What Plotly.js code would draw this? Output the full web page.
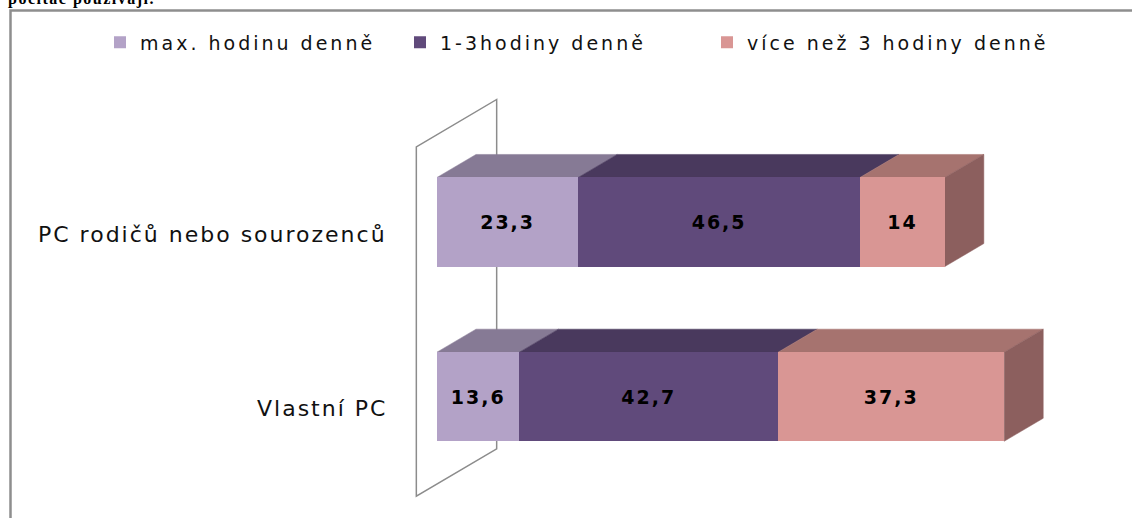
<!DOCTYPE html>
<html>
<head>
<meta charset="utf-8">
<script src="https://cdn.plot.ly/plotly-3.0.1.min.js"></script>
<style>
html, body { margin: 0; padding: 0; background: #fff; }
#chart { width: 1132px; height: 518px; }
.legendtext { letter-spacing: 3px; }
.annotation-text { letter-spacing: 2px; }
.bartext { letter-spacing: 2px; }
.gtitle { letter-spacing: 1.5px; }
</style>
</head>
<body>
<div id="chart"></div>
<script>
// ---- data ----
const categories = ['Vlastní PC', 'PC rodičů nebo sourozenců'];
const seriesNames = ['max. hodinu denně', '1-3hodiny denně', 'více než 3 hodiny denně'];
const maxHodinu = [13.6, 23.3];
const jednaAzTri = [42.7, 46.5];
const viceNezTri = [37.3, 14];
const titleText = 'počítač používají.';

// ---- styles ----
const frontColors = ['#b3a2c7', '#604a7b', '#d99694'];
const topColors = ['#867a95', '#49395d', '#a6736f'];
const sideColors = ['#6f6580', '#3b2e4c', '#8c5f5e'];
const legendWidths = [255, 262, 330];
const wallColor = '#8c8c8c';
const W = 1132, H = 518;
const PX_PER_VALUE = 6.06, ZERO_PX = 437;
const PX_PER_CAT = 174.7, CAT0_PX = 396.7;
const BAR_WIDTH = 0.51;
const DX = 39 / PX_PER_VALUE, DY = 23 / PX_PER_CAT;
const WALL_GAP = 0.53;

const series = [maxHodinu, jednaAzTri, viceNezTri];
const yIdx = categories.map((c, i) => i);
const fmt = v => String(v).replace('.', ',');

const traces = series.map((vals, s) => ({
  type: 'bar', orientation: 'h', name: seriesNames[s],
  x: vals, y: yIdx, width: BAR_WIDTH,
  legendwidth: legendWidths[s],
  marker: { color: frontColors[s], line: { width: 0 } },
  text: vals.map(fmt), textposition: 'inside', insidetextanchor: 'middle',
  textangle: 0, constraintext: 'none',
  textfont: { family: 'DejaVu Sans', size: 19, color: '#000', weight: 'bold' },
  hoverinfo: 'skip'
}));

const P = (x, y) => x + ',' + y;
const shapes = [];
// outer frame
shapes.push({ type: 'rect', xref: 'paper', yref: 'paper',
  x0: 10.5 / W, x1: (W + 20) / W, y0: 1 - 10.5 / H, y1: -0.1,
  line: { color: '#8e8e8e', width: 2.5 }, fillcolor: 'rgba(0,0,0,0)', layer: 'below' });

// wall at value 0
const wf = -WALL_GAP, wb = 1 + WALL_GAP;
const yLo = -0.5, yHi = categories.length - 0.5;
shapes.push({ type: 'path', xref: 'x', yref: 'y', layer: 'below',
  path: 'M' + P(wf * DX, yLo + wf * DY) + 'L' + P(wf * DX, yHi + wf * DY) +
        'L' + P(wb * DX, yHi + wb * DY) + 'L' + P(wb * DX, yLo + wb * DY) + 'Z',
  line: { color: wallColor, width: 1.5 }, fillcolor: 'rgba(0,0,0,0)' });

// 3D faces
categories.forEach((c, i) => {
  let start = 0;
  const yT = i + BAR_WIDTH / 2, yB = i - BAR_WIDTH / 2;
  series.forEach((vals, s) => {
    const end = start + vals[i];
    shapes.push({ type: 'path', xref: 'x', yref: 'y', layer: 'below',
      path: 'M' + P(start, yT) + 'L' + P(end, yT) + 'L' + P(end + DX, yT + DY) + 'L' + P(start + DX, yT + DY) + 'Z',
      fillcolor: topColors[s], line: { color: topColors[s], width: 0.5 } });
    if (s === series.length - 1) {
      shapes.push({ type: 'path', xref: 'x', yref: 'y', layer: 'below',
        path: 'M' + P(end, yB) + 'L' + P(end, yT) + 'L' + P(end + DX, yT + DY) + 'L' + P(end + DX, yB + DY) + 'Z',
        fillcolor: sideColors[s], line: { color: sideColors[s], width: 0.5 } });
    }
    start = end;
  });
});

const annotations = categories.map((c, i) => ({
  xref: 'x', yref: 'y', x: wf * DX, y: i + wf * DY, text: c,
  showarrow: false, xanchor: 'right', yanchor: 'middle', xshift: -27,
  font: { family: 'DejaVu Sans', size: 22, color: '#111' }
}));

const layout = {
  width: W, height: H, autosize: false,
  margin: { l: 0, r: 0, t: 0, b: 0, pad: 0 },
  paper_bgcolor: '#fff', plot_bgcolor: '#fff',
  barmode: 'stack', showlegend: true,
  title: { text: titleText, xref: 'container', yref: 'container',
    x: 8 / W, y: 1 - 4 / H, xanchor: 'left', yanchor: 'bottom',
    font: { family: 'Liberation Serif', size: 16, weight: 'bold', color: '#000' },
    pad: { t: 0, b: 0, l: 0, r: 0 } },
  xaxis: { visible: false, range: [-ZERO_PX / PX_PER_VALUE, (W - ZERO_PX) / PX_PER_VALUE], fixedrange: true },
  yaxis: { visible: false, range: [(CAT0_PX - H) / PX_PER_CAT, CAT0_PX / PX_PER_CAT], fixedrange: true },
  legend: { orientation: 'h', xref: 'paper', yref: 'paper',
    x: 100 / W, y: 1 - 42.5 / H, xanchor: 'left', yanchor: 'middle',
    font: { family: 'DejaVu Sans', size: 19, color: '#111' },
    traceorder: 'normal', entrywidthmode: 'pixels',
    bgcolor: 'rgba(0,0,0,0)', borderwidth: 0 },
  shapes: shapes, annotations: annotations, hovermode: false
};

Plotly.newPlot('chart', traces, layout, { staticPlot: true, displayModeBar: false });
</script>
</body>
</html>
